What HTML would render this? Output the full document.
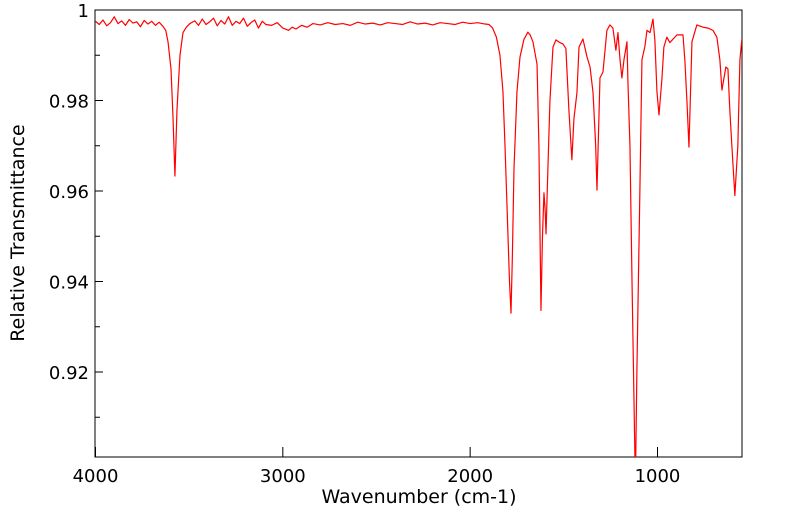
<!DOCTYPE html>
<html><head><meta charset="utf-8"><style>
body{margin:0;background:#fff;}
svg{display:block;font-family:"DejaVu Sans","Liberation Sans",sans-serif;}
</style></head><body>
<svg id="chart" width="799" height="516">
<defs><clipPath id="clip"><rect x="95" y="10" width="647" height="447"/></clipPath></defs>
<rect x="95" y="10" width="647" height="447" fill="#fff" stroke="#000" stroke-width="1"/>
<g id="ticks"></g>
<path id="line" clip-path="url(#clip)" fill="none" stroke="#ff0000" stroke-width="1.2" stroke-linejoin="round"/>
<text x="419" y="503" text-anchor="middle" font-size="19">Wavenumber (cm-1)</text>
<text transform="translate(24,233) rotate(-90)" text-anchor="middle" font-size="19">Relative Transmittance</text>
</svg>
<script>
const wavenumbers = [4000,3980,3960,3940,3920,3900,3880,3860,3840,3820,3800,3780,3760,3740,3720,3700,3680,3660,3640,3625,3613,3597,3586,3576,3565,3549,3533,3515,3496,3470,3450,3430,3410,3390,3370,3350,3330,3310,3290,3270,3250,3230,3210,3190,3170,3150,3130,3110,3090,3060,3030,3000,2970,2950,2930,2900,2870,2840,2800,2760,2720,2680,2640,2600,2560,2520,2480,2440,2400,2360,2320,2280,2240,2200,2160,2120,2080,2040,2000,1960,1920,1900,1880,1860,1841,1825,1814,1798,1790,1782,1775,1766,1750,1734,1713,1692,1680,1665,1643,1633,1622,1614,1606,1600,1595,1585,1574,1558,1542,1521,1505,1489,1473,1457,1446,1430,1419,1398,1376,1360,1344,1330,1323,1307,1291,1270,1254,1238,1222,1211,1200,1190,1179,1163,1158,1147,1136,1126,1118,1110,1094,1083,1067,1056,1040,1024,1014,1003,992,976,966,950,934,896,864,854,843,832,816,790,757,730,704,683,667,656,635,624,614,603,587,571,560,550];
const transmittance = [0.9975,0.9968,0.9978,0.9965,0.9972,0.9985,0.9970,0.9976,0.9966,0.9979,0.9971,0.9974,0.9963,0.9977,0.9969,0.9975,0.9966,0.9973,0.9964,0.9955,0.9930,0.9870,0.9760,0.9633,0.9780,0.9900,0.9950,0.9962,0.9970,0.9976,0.9966,0.9980,0.9968,0.9974,0.9982,0.9965,0.9977,0.9969,0.9985,0.9966,0.9975,0.9970,0.9982,0.9964,0.9972,0.9978,0.9960,0.9975,0.9968,0.9966,0.9972,0.9960,0.9955,0.9962,0.9958,0.9966,0.9962,0.9970,0.9967,0.9972,0.9968,0.9970,0.9966,0.9973,0.9969,0.9971,0.9967,0.9972,0.9970,0.9968,0.9974,0.9969,0.9971,0.9967,0.9972,0.9970,0.9968,0.9973,0.9970,0.9972,0.9969,0.9968,0.9960,0.9940,0.9900,0.9820,0.9700,0.9500,0.9400,0.9330,0.9450,0.9650,0.9820,0.9896,0.9935,0.9951,0.9945,0.9930,0.9880,0.9700,0.9336,0.9500,0.9596,0.9560,0.9505,0.9650,0.9800,0.9918,0.9934,0.9928,0.9925,0.9915,0.9780,0.9669,0.9760,0.9817,0.9918,0.9936,0.9896,0.9874,0.9817,0.9700,0.9602,0.9850,0.9863,0.9955,0.9967,0.9960,0.9911,0.9950,0.9890,0.9850,0.9890,0.9930,0.9845,0.9700,0.9400,0.9150,0.8950,0.9200,0.9600,0.9890,0.9920,0.9955,0.9950,0.9980,0.9934,0.9820,0.9768,0.9850,0.9918,0.9940,0.9928,0.9945,0.9945,0.9890,0.9800,0.9697,0.9930,0.9967,0.9962,0.9960,0.9955,0.9940,0.9890,0.9823,0.9874,0.9870,0.9780,0.9700,0.9590,0.9700,0.9890,0.9934,0.9967,0.9930];
const xTicks = [4000,3000,2000,1000];
const yTicks = [0.92,0.94,0.96,0.98,1];
const yMinor = [0.91,0.93,0.95,0.97,0.99];

const X0=95.5, Xpx=0.18733;
function xs(w){return X0+(4000-w)*Xpx;}
function ys(v){return 10+(1-v)*4525;}

const ns='http://www.w3.org/2000/svg';
const svg=document.getElementById('chart');
const g=document.getElementById('ticks');
let d='';
wavenumbers.forEach((w,i)=>{d+=(i?'L':'M')+xs(w).toFixed(2)+' '+ys(transmittance[i]).toFixed(2);});
document.getElementById('line').setAttribute('d',d);

function ln(x1,y1,x2,y2){const l=document.createElementNS(ns,'line');l.setAttribute('x1',x1);l.setAttribute('y1',y1);l.setAttribute('x2',x2);l.setAttribute('y2',y2);l.setAttribute('stroke','#000');g.appendChild(l);return l;}
xTicks.forEach(w=>{
  const x=xs(w);
  const l=ln(x,457,x,447);
  
  
  const t=document.createElementNS(ns,'text');
  t.setAttribute('x',x);t.setAttribute('y',482);t.setAttribute('text-anchor','middle');t.setAttribute('font-size','18');
  t.textContent=w;
  
  
  svg.appendChild(t);
});
yTicks.forEach(v=>{
  const y=ys(v);
  const l=ln(95,y,103,y);
  
  
  const t=document.createElementNS(ns,'text');
  t.setAttribute('x',89);t.setAttribute('y',y+7);t.setAttribute('text-anchor','end');t.setAttribute('font-size','18');
  t.textContent=String(v);
  
  
  svg.appendChild(t);
});
yMinor.forEach(v=>{
  const y=ys(v);
  const l=ln(95,y,100,y);
  
  
});
</script>
</body></html>
